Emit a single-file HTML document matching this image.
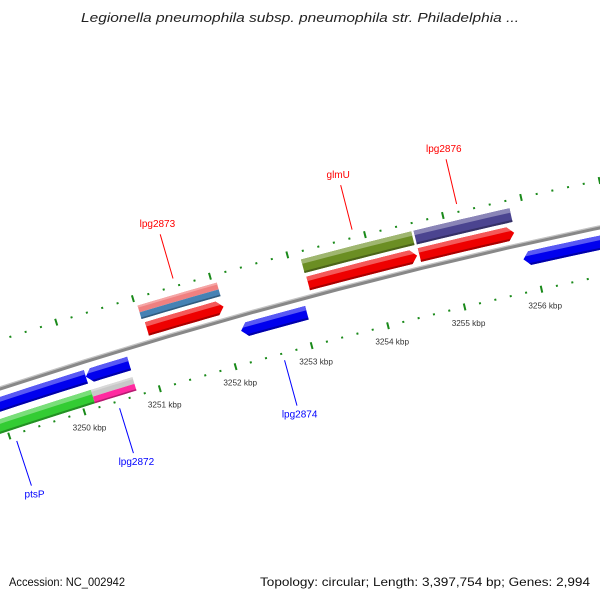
<!DOCTYPE html>
<html><head><meta charset="utf-8"><title>Genome map</title>
<style>html,body{margin:0;padding:0;background:#fff}svg{display:block}</style></head>
<body>
<svg id="map" width="600" height="600" viewBox="0 0 600 600" xmlns="http://www.w3.org/2000/svg" font-family="'Liberation Sans', sans-serif">
<rect x="0" y="0" width="600" height="600" fill="#fff"/>
<text x="300" y="22" text-anchor="middle" font-size="12.5" font-style="italic" fill="#222" textLength="438" lengthAdjust="spacingAndGlyphs">Legionella pneumophila subsp. pneumophila str. Philadelphia ...</text>
<g id="plot"></g>
<text x="9" y="586" font-size="12" fill="#111" textLength="116" lengthAdjust="spacingAndGlyphs">Accession: NC_002942</text>
<text x="590" y="586" font-size="12" fill="#111" text-anchor="end" textLength="330" lengthAdjust="spacingAndGlyphs">Topology: circular; Length: 3,397,754 bp; Genes: 2,994</text>
</svg>
<script>
// ---- data ----
const tickStartKbp = 3248.4;
const tickEndKbp = 3257.4;
const tickStepKbp = 0.2;
const tickLabels = ["3250 kbp","3251 kbp","3252 kbp","3253 kbp","3254 kbp","3255 kbp","3256 kbp"];
const tickLabelKbp = [3250,3251,3252,3253,3254,3255,3256];
const featStart = [3251.06,3253.16,3254.60,3251.03,3253.15,3254.60,3248.3,3250.15,3252.19,3255.86,3248.3,3250.16];
const featEnd   = [3252.06,3254.57,3255.82,3252.06,3254.57,3255.83,3250.15,3250.72,3253.05,3258.5,3250.16,3250.71];
const featTrack = [1,1,1,0,0,0,2,2,2,2,3,3];
const featStrand= [1,1,1,0,0,0,0,-1,-1,-1,0,0];
const featColor = ["#ee0000","#ee0000","#ee0000","#f08080","#6b8e23","#4b4490","#0000ee","#0000ee","#0000ee","#0000ee","#33cc33","#c8c8c8"];
const featColor2= [null,null,null,"#4682b4",null,null,null,null,null,null,null,"#ff2aa0"];
const geneNames = ["lpg2873","glmU","lpg2876","lpg2872","lpg2874","ptsP"];
const geneKbp   = [3251.55,3253.86,3255.20,3250.44,3252.62,3249.07];
const geneSide  = [1,1,1,-1,-1,-1];
const geneColor = ["#ff0000","#ff0000","#ff0000","#0000ff","#0000ff","#0000ff"];

// ---- geometry ----
const CX=1758, CY=5736;
function P(k,r){const b=(17.45-0.81*(k-3250))*Math.PI/180;return [CX-r*Math.sin(b), CY-r*Math.cos(b)];}
const trackR=[5660,5642,5614,5593];
const TH=14, HEAD=0.08;
const NS="http://www.w3.org/2000/svg";
const plot=document.getElementById('plot');
function mk(tag,attrs,parent){const e=document.createElementNS(NS,tag);for(const a in attrs)e.setAttribute(a,attrs[a]);(parent||plot).appendChild(e);return e;}
function arcPts(k1,k2,r){const n=10,out=[];for(let i=0;i<=n;i++){out.push(P(k1+(k2-k1)*i/n,r));}return out;}
function band(k1,k2,r1,r2){const pts=arcPts(k1,k2,r2).concat(arcPts(k2,k1,r1));return 'M'+pts.map(p=>p[0].toFixed(2)+','+p[1].toFixed(2)).join('L')+'Z';}
function shape(k1,k2,rc,strand){
  const r1=rc-TH/2,r2=rc+TH/2;let pts;
  if(strand===1){pts=arcPts(k1,k2-HEAD,r2).concat([P(k2,rc)],arcPts(k2-HEAD,k1,r1));}
  else if(strand===-1){pts=arcPts(k1+HEAD,k2,r2).concat(arcPts(k2,k1+HEAD,r1),[P(k1,rc)]);}
  else{pts=arcPts(k1,k2,r2).concat(arcPts(k2,k1,r1));}
  return 'M'+pts.map(p=>p[0].toFixed(2)+','+p[1].toFixed(2)).join('L')+'Z';
}
function lighten(c,f){const n=parseInt(c.slice(1),16);let r=n>>16,g=(n>>8)&255,b=n&255;r=Math.round(r+(255-r)*f);g=Math.round(g+(255-g)*f);b=Math.round(b+(255-b)*f);return 'rgb('+r+','+g+','+b+')';}
function darken(c,f){const n=parseInt(c.slice(1),16);return 'rgb('+Math.round((n>>16)*f)+','+Math.round(((n>>8)&255)*f)+','+Math.round((n&255)*f)+')';}

// tick rows
const tickG=mk('g',{});


const rowR=[5675,5581];
const nT=Math.round((tickEndKbp-tickStartKbp)/tickStepKbp);
for(const rr of rowR){
  for(let i=0;i<=nT;i++){
    const k=tickStartKbp+i*tickStepKbp;
    const major=Math.abs(k-Math.round(k))<0.01;
    const h=major?3.5:1;
    const a=P(k,rr-h),b=P(k,rr+h);
    const t=mk('line',{x1:a[0],y1:a[1],x2:b[0],y2:b[1],stroke:'#1a8a1a','stroke-width':2},tickG);
    
    
  }
}
for(let i=0;i<tickLabels.length;i++){
  const p=P(tickLabelKbp[i],5564);
  const t=mk('text',{x:p[0],y:p[1]+2.5,'text-anchor':'middle','font-size':'8.2',fill:'#333'});
  t.textContent=tickLabels[i];
  
  
}

// backbone
const bb=mk('path',{d:band(3248,3259,5627,5631),fill:'#888'});


const bbh=mk('path',{d:band(3248,3259,5630,5631.3),fill:'#c4c4c4'});



// features
const defs=mk('defs',{});
for(let i=0;i<featStart.length;i++){
  const rc=trackR[featTrack[i]];
  const d=shape(featStart[i],featEnd[i],rc,featStrand[i]);
  const cp=mk('clipPath',{id:'cp'+i},defs);
  mk('path',{d:d},cp);
  const g=mk('g',{'clip-path':'url(#cp'+i+')'});
  
  
  const k1=featStart[i]-0.2,k2=featEnd[i]+0.2,r1=rc-TH/2-1,r2=rc+TH/2+1;
  if(featColor2[i]){
    mk('path',{d:band(k1,k2,rc,r2),fill:featColor[i]},g);
    mk('path',{d:band(k1,k2,rc+TH/2-2,r2),fill:lighten(featColor[i],0.3)},g);
    mk('path',{d:band(k1,k2,r1,rc),fill:featColor2[i]},g);
    mk('path',{d:band(k1,k2,r1,rc-TH/2+1.5),fill:darken(featColor2[i],0.7)},g);
  } else {
    mk('path',{d:band(k1,k2,r1,r2),fill:featColor[i]},g);
    mk('path',{d:band(k1,k2,rc+TH/2-4.5,r2),fill:lighten(featColor[i],0.35)},g);
    mk('path',{d:band(k1,k2,r1,rc-TH/2+2),fill:darken(featColor[i],0.7)},g);
  }
}

// gene labels
for(let i=0;i<geneNames.length;i++){
  const up=geneSide[i]===1;
  const a=P(geneKbp[i],up?5683:5574),b=P(geneKbp[i],up?5729:5527);
  const l=mk('line',{x1:a[0],y1:a[1],x2:b[0],y2:b[1],stroke:geneColor[i],'stroke-width':1});
  
  
  const p=P(geneKbp[i],up?5739:5517);
  const t=mk('text',{x:p[0],y:p[1]+2.5,'text-anchor':'middle','font-size':'10',fill:geneColor[i]});
  t.textContent=geneNames[i];
  
  
}
</script>
</body></html>
